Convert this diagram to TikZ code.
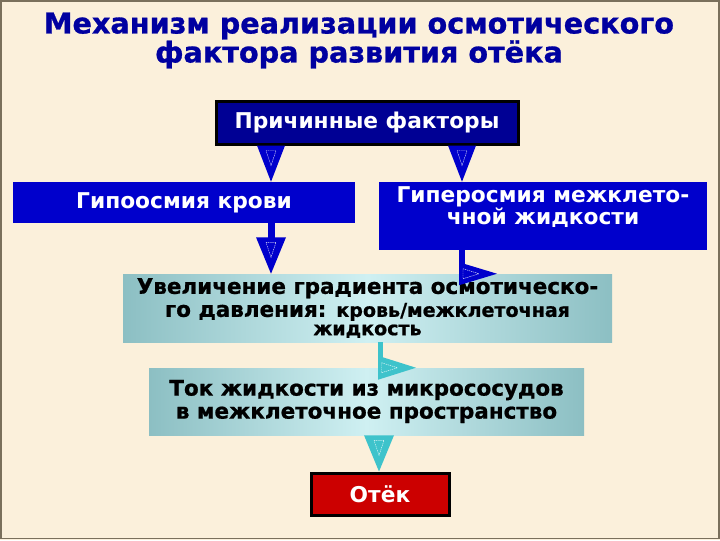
\documentclass[tikz,border=0pt]{standalone}
\usepackage{fontspec}
\setmainfont{DejaVu Sans}
\newfontfamily\heavy{DejaVu Sans}[BoldFeatures={FakeBold=0.9}]
\usetikzlibrary{calc}
\definecolor{bg}{HTML}{FBF0DB}
\definecolor{framec}{HTML}{7A705C}
\definecolor{titleblue}{HTML}{0000A0}
\definecolor{navybox}{HTML}{000094}
\definecolor{boxblue}{HTML}{0000CC}
\definecolor{tealarrow}{HTML}{3EC3CB}
\definecolor{tealedge}{HTML}{8CBFC3}
\definecolor{tealmid}{HTML}{CFF0F2}
\definecolor{otred}{HTML}{CC0000}
\begin{document}
\begin{tikzpicture}[x=0.75pt,y=-0.75pt,
  titlefont/.style={font=\heavy\bfseries\fontsize{21.5}{21.75}\selectfont, text=titleblue, align=center, inner sep=0pt},
  darkbox/.style={draw=black, line width=2.25pt, fill=navybox, text=white, inner sep=0pt,
     font=\bfseries\fontsize{16.3}{16.5}\selectfont},
  redbox/.style={draw=black, line width=2.25pt, fill=otred, text=white, inner sep=0pt,
     font=\bfseries\fontsize{16.3}{16.5}\selectfont},
  bluebox/.style={fill=boxblue, text=white, inner sep=0pt, align=center,
     font=\bfseries\fontsize{16.3}{15.75}\selectfont},
  tealbox/.style={left color=tealedge, right color=tealedge, middle color=tealmid,
     text=black, inner sep=0pt, align=center,
     font=\heavy\bfseries\fontsize{16.1}{17.25}\selectfont},
  hl/.style={draw=white, line width=0.35pt, dash pattern=on 1pt off 0.6pt, opacity=0.85},
  blueshape/.style={fill=boxblue},
  tealshape/.style={fill=tealarrow}
]
\useasboundingbox (0,0) rectangle (720,540);
\fill[bg] (0,0) rectangle (720,540);
\draw[framec, line width=1.1pt] (1,1) rectangle (719,538.5);

% title
\node[titlefont] (title) at (359,40.5) {Механизм реализации осмотического\\фактора развития отёка};

% boxes
\node[darkbox, minimum width=226.5pt, minimum height=32.25pt] (p) at (367,122.5) {Причинные факторы};
\node[bluebox, minimum width=256.5pt, minimum height=30.75pt] (gip) at (184,202.5) {Гипоосмия крови};
\node[bluebox, minimum width=246pt, minimum height=51pt] (hyp) at (543,216) {};
\node[bluebox, anchor=center] (hypt) at (543,207) {Гиперосмия межклето-\\чной жидкости};
\node[tealbox, minimum width=366.75pt, minimum height=51pt] (uv) at (367.5,308)
  {Увеличение градиента осмотическо-\\го давления: {\fontsize{14.3}{12.75}\selectfont кровь/межклеточная}\\[-3.5pt]{\fontsize{14.3}{12.75}\selectfont жидкость}};
\node[tealbox, minimum width=326.25pt, minimum height=50.25pt] (tok) at (366.5,401.5)
  {Ток жидкости из микрососудов\\в межклеточное пространство};
\node[redbox, minimum width=103.5pt, minimum height=31.5pt] (ot) at (380,494) {Отёк};

% arrow axes
\coordinate (ax1) at (271,0);
\coordinate (ax2) at (462,0);
\coordinate (ax3) at (380.5,0);
\coordinate (ax4) at (379,0);

% Причинные -> Гипоосмия
\fill[blueshape] ($(p.south -| ax1)+(-14,0)$) -- ($(p.south -| ax1)+(14,0)$) -- (gip.north -| ax1) -- cycle;
\draw[hl] ($(p.south -| ax1)+(-5,5)$) -- ($(p.south -| ax1)+(5,5)$) -- ($(p.south -| ax1)+(0,20)$) -- cycle;
% Причинные -> Гиперосмия
\fill[blueshape] ($(p.south -| ax2)+(-14,0)$) -- ($(p.south -| ax2)+(14,0)$) -- (hyp.north -| ax2) -- cycle;
\draw[hl] ($(p.south -| ax2)+(-5,5)$) -- ($(p.south -| ax2)+(5,5)$) -- ($(p.south -| ax2)+(0,20)$) -- cycle;

% Гипоосмия -> Увеличение
\fill[blueshape] ($(gip.south -| ax1)+(-3.5,0)$) rectangle ($(gip.south -| ax1)+(3.5,15)$);
\fill[blueshape] ($(gip.south -| ax1)+(-15,14)$) -- ($(gip.south -| ax1)+(15,14)$) -- (uv.north -| ax1) -- cycle;
\draw[hl] ($(gip.south -| ax1)+(-5,19)$) -- ($(gip.south -| ax1)+(5,19)$) -- ($(gip.south -| ax1)+(0,34)$) -- cycle;

% Гиперосмия -> Увеличение (elbow, right-pointing head)
\fill[blueshape] ($(hyp.south -| ax2)+(-3,0)$) rectangle ($(uv.north -| ax2)+(3,0)$);
\fill[blueshape] ($(uv.north -| ax2)+(-3,-11.5)$) -- ($(uv.north -| ax2)+(35,0)$) -- ($(uv.north -| ax2)+(-3,11.5)$) -- cycle;
\draw[hl] ($(uv.north -| ax2)+(1,-5)$) -- ($(uv.north -| ax2)+(17,0)$) -- ($(uv.north -| ax2)+(1,5)$) -- cycle;

% Увеличение -> Ток (elbow, right-pointing head)
\fill[tealshape] ($(uv.south -| ax3)+(-2.5,0)$) rectangle ($(tok.north -| ax3)+(2.5,0)$);
\fill[tealshape] ($(tok.north -| ax3)+(-2.5,-12)$) -- ($(tok.north -| ax3)+(35.5,0)$) -- ($(tok.north -| ax3)+(-2.5,12)$) -- cycle;
\draw[hl] ($(tok.north -| ax3)+(1,-5)$) -- ($(tok.north -| ax3)+(17,0)$) -- ($(tok.north -| ax3)+(1,5)$) -- cycle;

% Ток -> Отёк
\fill[tealshape] ($(tok.south -| ax4)+(-15,0)$) -- ($(tok.south -| ax4)+(15,0)$) -- (ot.north -| ax4) -- cycle;
\draw[hl] ($(tok.south -| ax4)+(-5,5)$) -- ($(tok.south -| ax4)+(5,5)$) -- ($(tok.south -| ax4)+(0,20)$) -- cycle;
\end{tikzpicture}
\end{document}
